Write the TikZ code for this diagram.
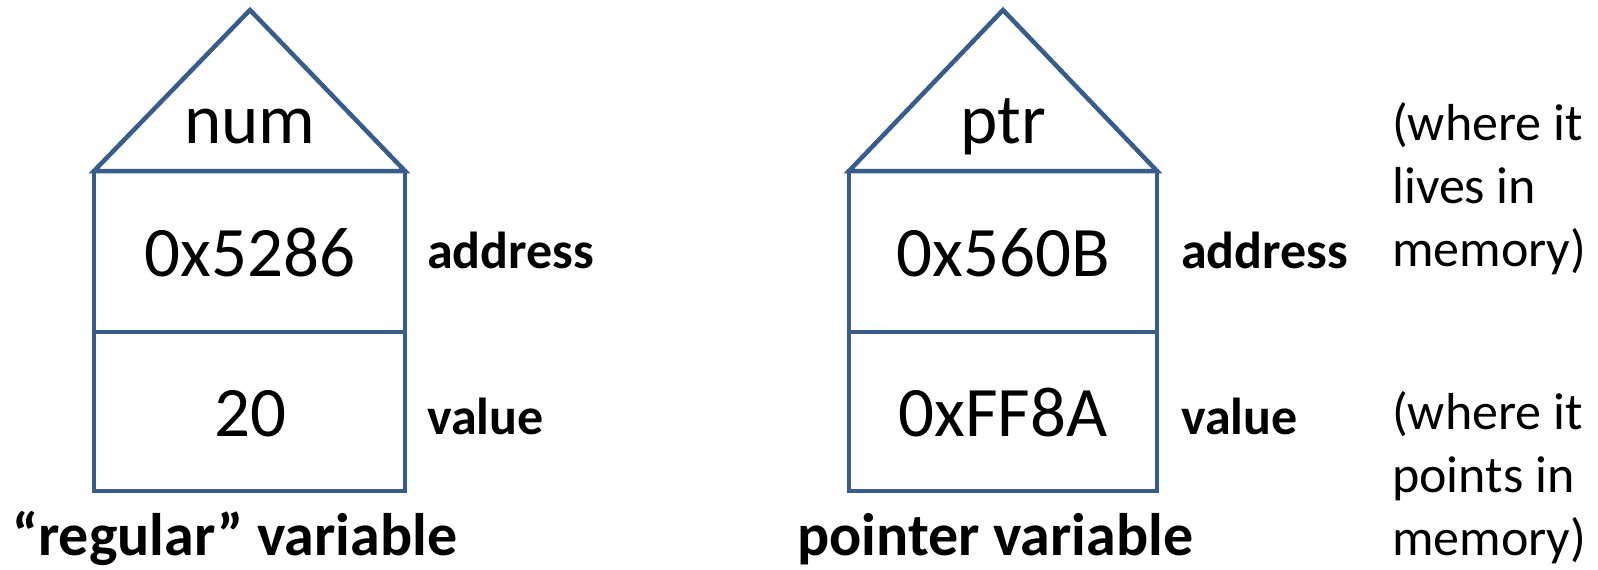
\documentclass[tikz,border=0pt]{standalone}
\usepackage{fontspec}
\setmainfont{Carlito}
\definecolor{frameblue}{HTML}{385D8A}
\tikzset{
  frame/.style={draw=frameblue, line width=4.5pt},
  bigtext/.style={font=\fontsize{71}{85}\selectfont, inner sep=0pt, anchor=base},
  tag/.style={font=\fontsize{52}{63}\selectfont\bfseries, inner sep=0pt, anchor=base west},
  note/.style={font=\fontsize{52}{63}\selectfont, inner sep=0pt, anchor=base west, align=left},
  caption/.style={font=\fontsize{60}{72}\selectfont\bfseries, inner sep=0pt, anchor=base west},
}
\begin{document}
\begin{tikzpicture}[x=1pt, y=-1pt]
\useasboundingbox (0,0) rectangle (1598,570);

% regular variable: roof, address cell, value cell
\draw[frame] (94,171) -- (250,10) -- (405,171) -- cycle;
\draw[frame] (94,171) rectangle (405,491);
\draw[frame] (94,332) -- (405,332);

% pointer variable
\draw[frame] (849,171) -- (1003,10) -- (1157,171) -- cycle;
\draw[frame] (849,171) rectangle (1157,491);
\draw[frame] (849,332) -- (1157,332);

\node[bigtext] (numname) at (250,143) {num};
\node[bigtext] (numaddr) at (250,276) {0x5286};
\node[bigtext] (numval)  at (250,436) {20};

\node[bigtext] (ptrname) at (1003,143) {ptr};
\node[bigtext] (ptraddr) at (1003,276) {0x560B};
\node[bigtext] (ptrval)  at (1003,436) {0xFF8A};

\node[tag] (addrL) at (427,268) {address};
\node[tag] (valL)  at (427,434) {value};
\node[tag] (addrR) at (1181,268) {address};
\node[tag] (valR)  at (1181,434) {value};

% multi-line notes are anchored on the baseline of their last line
\node[note] (lives)  at (1392,266) {(where it\\lives in\\memory)};
\node[note] (points) at (1392,555) {(where it\\points in\\memory)};

\node[caption] (regcap) at (12,555) {“regular” variable};
\node[caption] (ptrcap) at (797,555) {pointer variable};
\end{tikzpicture}
\end{document}
